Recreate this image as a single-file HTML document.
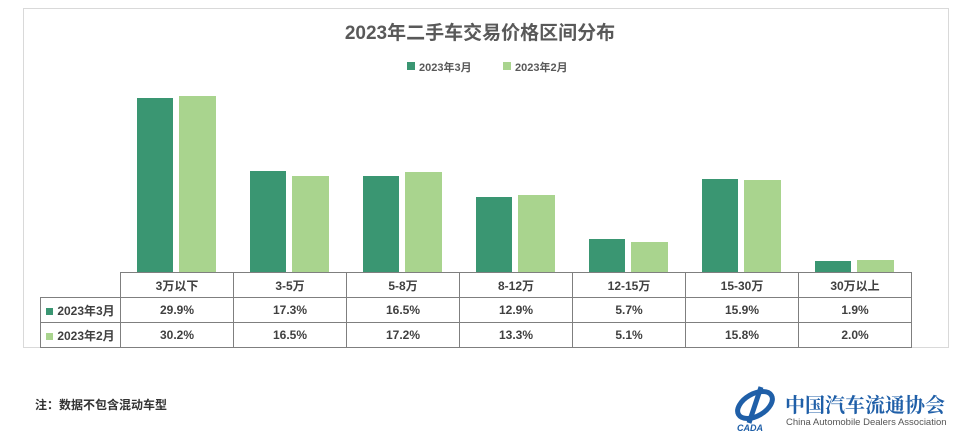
<!DOCTYPE html><html><head><meta charset="utf-8"><style>
body{margin:0;width:960px;height:443px;background:#fff;position:relative;font-family:"Liberation Sans","Noto Sans CJK SC",sans-serif;overflow:hidden}
.a{position:absolute;white-space:nowrap}
.box{left:23px;top:8px;width:926px;height:340px;border:1px solid #d9d9d9;box-sizing:border-box}
.d{background:#3a9672}.l{background:#a9d48e}
table{position:absolute;border-collapse:collapse;font-size:12px;font-weight:bold;color:#404040}
td{border:1px solid #7f7f7f;text-align:center;padding:0;height:24px;width:112px}
</style></head><body>
<div class="a box"></div>
<div class="a" style="left:0;width:960px;top:18px;text-align:center;font-size:19px;font-weight:bold;color:#595959">2023年二手车交易价格区间分布</div>
<div class="a d" style="left:407px;top:62px;width:8px;height:8px"></div>
<div class="a" style="left:419px;top:59px;font-size:11px;font-weight:bold;color:#595959">2023年3月</div>
<div class="a l" style="left:503px;top:62px;width:8px;height:8px"></div>
<div class="a" style="left:515px;top:59px;font-size:11px;font-weight:bold;color:#595959">2023年2月</div>
<div id="bars"></div>
<table style="left:40px;top:272px">
<tr><td style="border:none;border-right:1px solid #7f7f7f;width:79px"></td><td>3万以下</td><td>3-5万</td><td>5-8万</td><td>8-12万</td><td>12-15万</td><td>15-30万</td><td>30万以上</td></tr>
<tr><td style="width:79px"><span style="display:inline-block;width:7px;height:7px;background:#3a9672;margin-right:4px"></span>2023年3月</td><td>29.9%</td><td>17.3%</td><td>16.5%</td><td>12.9%</td><td>5.7%</td><td>15.9%</td><td>1.9%</td></tr>
<tr><td style="width:79px"><span style="display:inline-block;width:7px;height:7px;background:#a9d48e;margin-right:4px"></span>2023年2月</td><td>30.2%</td><td>16.5%</td><td>17.2%</td><td>13.3%</td><td>5.1%</td><td>15.8%</td><td>2.0%</td></tr>
</table>
<div class="a" style="left:35px;top:396px;font-size:12px;font-weight:bold;color:#333">注：数据不包含混动车型</div>
<svg class="a" style="left:733px;top:383px" width="50" height="50"><ellipse cx="22" cy="22" rx="19" ry="11" fill="none" stroke="#1f5fa8" stroke-width="5" transform="rotate(-30 22 22)"/><path d="M28 4 L16 40" stroke="#1f5fa8" stroke-width="5"/><text x="4" y="48" font-size="9" font-style="italic" font-weight="bold" fill="#1f5fa8">CADA</text></svg>
<div class="a" style="left:785px;top:392px;font-size:20px;line-height:24px;font-weight:bold;color:#1f5fa8;font-family:'Noto Serif CJK SC',serif">中国汽车流通协会</div>
<div class="a" style="left:786px;top:417px;font-size:9.5px;color:#555">China Automobile Dealers Association</div>
<script>
var m=[29.9,17.3,16.5,12.9,5.7,15.9,1.9],f=[30.2,16.5,17.2,13.3,5.1,15.8,2.0],h='';
for(var i=0;i<7;i++){var x=120+i*113;
h+='<div class="a d" style="left:'+(x+17)+'px;top:'+(272-m[i]*5.82)+'px;width:36px;height:'+(m[i]*5.82)+'px"></div>';
h+='<div class="a l" style="left:'+(x+59)+'px;top:'+(272-f[i]*5.82)+'px;width:37px;height:'+(f[i]*5.82)+'px"></div>';}
document.getElementById('bars').innerHTML=h;
</script>
</body></html>
